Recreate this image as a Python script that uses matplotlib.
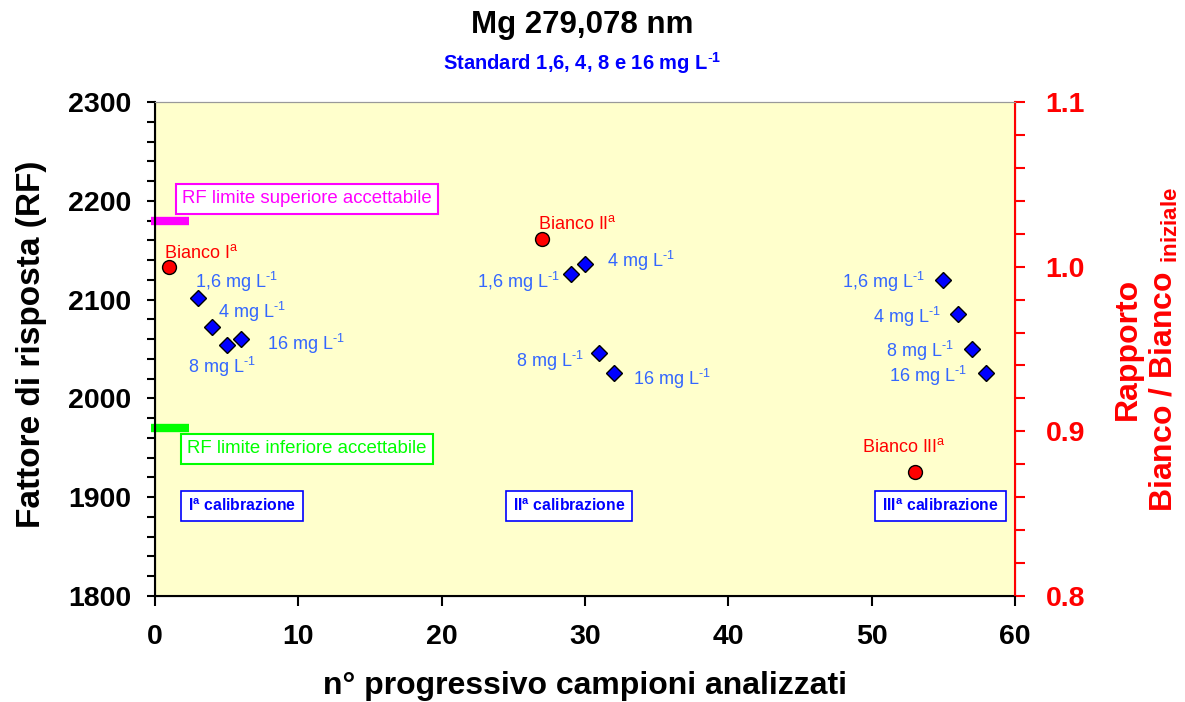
import matplotlib.pyplot as plt
import numpy as np

plt.rcParams['font.family'] = ['Liberation Sans', 'DejaVu Sans']
plt.rcParams['mathtext.fontset'] = 'custom'
plt.rcParams['mathtext.rm'] = 'Liberation Sans'
plt.rcParams['mathtext.it'] = 'Liberation Sans:italic'
plt.rcParams['mathtext.bf'] = 'Liberation Sans:bold'

# standards (RF, left axis)
std_x = [3, 4, 5, 6, 29, 30, 31, 32, 55, 56, 57, 58]
std_rf = [2102, 2072, 2054, 2060, 2126, 2136, 2046, 2026, 2120, 2085, 2050, 2026]
std_names = ["1,6", "4", "8", "16", "1,6", "4", "8", "16", "1,6", "4", "8", "16"]

# blanks (ratio, right axis)
blank_x = [1, 27, 53]
blank_ratio = [1.0, 1.017, 0.875]
blank_names = ["I", "II", "III"]

rf_upper = 2180
rf_lower = 1970

fig = plt.figure(figsize=(11.85, 7.02), dpi=100)
ax = fig.add_axes([0.1308, 0.151, 0.7257, 0.7037])
ax.set_facecolor("#FFFFCC")
ax2 = ax.twinx()

ax.set_xlim(0, 60)
ax.set_ylim(1800, 2300)
ax2.set_ylim(0.8, 1.1)

# limit bars
ax.plot([-0.3, 2.4], [rf_upper, rf_upper], color="#FF00FF", lw=6, solid_capstyle="butt", clip_on=False)
ax.plot([-0.3, 2.4], [rf_lower, rf_lower], color="#00FF00", lw=6, solid_capstyle="butt", clip_on=False)

ax.plot(std_x, std_rf, linestyle="None", marker="D", ms=8, mfc="#0000FF", mec="black", mew=1)
ax2.plot(blank_x, blank_ratio, linestyle="None", marker="o", ms=10, mfc="#FF0000", mec="black", mew=1)

# label offsets in points (dx, dy, ha), baseline aligned
std_offsets = [(-2, 7, "left"), (4, 7, "left"), (-28, -20, "left"), (19, -8, "left"),
               (-8, -10, "right"), (16, -2, "left"), (-11, -10, "right"), (14, -9, "left"),
               (-13, -6, "right"), (-12, -6.5, "right"), (-13, -6, "right"), (-14, -7, "right")]
lab_col = "#3366FF"
for x, y, n, (dx, dy, ha) in zip(std_x, std_rf, std_names, std_offsets):
    ax.annotate(n + r" mg L$^{\text{-1}}$", (x, y), xytext=(dx, dy), textcoords="offset points",
                ha=ha, va="baseline", color=lab_col, fontsize=13)

blank_offsets = [(-4, 6.5, "left"), (-3, 7, "left"), (-38, 14.5, "left")]
for x, y, n, (dx, dy, ha) in zip(blank_x, blank_ratio, blank_names, blank_offsets):
    ax2.annotate("Bianco " + n + r"$^{\mathrm{a}}$", (x, y), xytext=(dx, dy), textcoords="offset points",
                 ha=ha, va="baseline", color="#FF0000", fontsize=13)

# boxes
ax.text(10.6, 2202, "RF limite superiore accettabile", ha="center", va="center", color="#FF00FF",
        fontsize=13.4, bbox=dict(boxstyle="square,pad=0.35", fc="white", ec="#FF00FF", lw=1.5))
ax.text(10.6, 1949, "RF limite inferiore accettabile", ha="center", va="center", color="#00FF00",
        fontsize=13.4, bbox=dict(boxstyle="square,pad=0.35", fc="white", ec="#00FF00", lw=1.5))
calib = [(6.07, "I"), (28.9, "II"), (54.8, "III")]
for cx, n in calib:
    ax.text(cx, 1891, n + r"$^{\mathbf{a}}$ calibrazione", ha="center", va="center", color="#0000FF",
            fontsize=11.3, fontweight="bold",
            bbox=dict(boxstyle="square,pad=0.45", fc="white", ec="#0000FF", lw=1.2))

# axes styling
ax.set_xticks(np.arange(0, 61, 10))
ax.set_yticks(np.arange(1800, 2301, 100))
ax.set_yticks(np.arange(1800, 2301, 20), minor=True)
ax.tick_params(axis="y", which="both", labelsize=20.5, width=1.5, length=6, direction="out", pad=11)
ax.tick_params(axis="x", which="major", labelsize=20.5, width=1.5, length=7, direction="out", pad=13)
for lbl in ax.get_xticklabels() + ax.get_yticklabels():
    lbl.set_fontweight("bold")
for s in ["left", "bottom"]:
    ax.spines[s].set_linewidth(1.5)
ax.spines["top"].set_color("#999999")

ax2.set_yticks([0.8, 0.9, 1.0, 1.1])
ax2.set_yticklabels(["0.8", "0.9", "1.0", "1.1"])
ax2.set_yticks(np.arange(0.8, 1.101, 0.02), minor=True)
ax2.tick_params(axis="y", which="both", labelsize=20.5, colors="#FF0000", width=1.5, length=7, pad=15)
for lbl in ax2.get_yticklabels():
    lbl.set_fontweight("bold")
ax2.spines["right"].set_color("#FF0000")
ax2.spines["right"].set_linewidth(1.5)
ax2.spines["top"].set_color("#999999")

ax.set_xlabel("n° progressivo campioni analizzati", fontsize=23, fontweight="bold")
ax.xaxis.set_label_coords(0.5, -0.152)
ax.set_ylabel("Fattore di risposta (RF)", fontsize=24, fontweight="bold")
ax.yaxis.set_label_coords(-0.126, 0.51)
ax2.set_ylabel("Rapporto\nBianco / Bianco $_{\\mathbf{iniziale}}$", fontsize=23, fontweight="bold",
               color="#FF0000", rotation=90)
ax2.yaxis.set_label_coords(1.114, 0.5)

fig.text(0.491, 0.964, "Mg 279,078 nm", ha="center", va="center", fontsize=22.5, fontweight="bold")
fig.text(0.491, 0.910, r"Standard 1,6, 4, 8 e 16 mg L$^{\mathbf{\text{-}1}}$", ha="center", va="center",
         fontsize=14.5, fontweight="bold", color="#0000FF")

fig.savefig("out.png", dpi=100)
